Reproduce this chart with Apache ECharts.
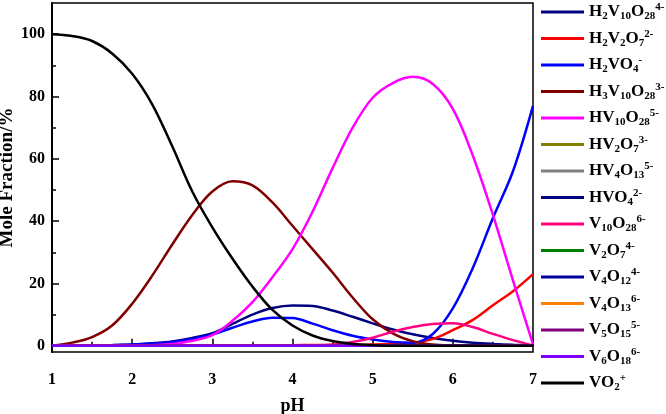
<!DOCTYPE html>
<html>
<head>
<meta charset="utf-8">
<script src="https://cdn.jsdelivr.net/npm/echarts@6.0.0/dist/echarts.min.js"></script>
<style>
  html, body { margin: 0; padding: 0; background: #fff; }
  #container { width: 666px; height: 414px; }
</style>
</head>
<body>
<div id="container"></div>
<script>
// pH grid
const phValues = [1, 1.25, 1.5, 1.75, 2, 2.25, 2.5, 2.75, 3, 3.25, 3.5, 3.75, 4, 4.25, 4.5, 4.75, 5, 5.25, 5.5, 5.75, 6, 6.25, 6.5, 6.75, 7]

// species names, "^" marks the charge
const speciesNames = ['H2V10O28^4-', 'H2V2O7^2-', 'H2VO4^-', 'H3V10O28^3-', 'HV10O28^5-', 'HV2O7^3-', 'HV4O13^5-', 'HVO4^2-',
  'V10O28^6-', 'V2O7^4-', 'V4O12^4-', 'V4O13^6-', 'V5O15^5-', 'V6O18^6-', 'VO2^+']
const speciesColors = ['#000080', '#ff0000', '#0000ff', '#800000', '#ff00ff', '#808000', '#808080', '#000080',
  '#ff0080', '#008000', '#0000a0', '#ff8000', '#800080', '#8000ff', '#000000']

// mole fraction (%) per species
const h2v10o28 = [0, 0.05, 0.1, 0.2, 0.4, 0.8, 1.4, 2.5, 4, 7, 10, 12.1, 12.9, 12.8, 11.3, 9.3, 7.2, 5.2, 3.7, 2.5, 1.6, 1.0, 0.6, 0.3, 0.1]
const h2v2o7 = [0, 0, 0, 0, 0, 0, 0, 0, 0.05, 0.1, 0.15, 0.2, 0.2, 0.25, 0.3, 0.3, 0.4, 0.6, 0.9, 2.2, 5, 8.3, 13, 17.5, 23]
const h2vo4 = [0, 0.05, 0.1, 0.2, 0.4, 0.7, 1.2, 2.2, 3.6, 5.8, 7.8, 9.0, 8.9, 7.1, 5.0, 3.2, 2.0, 1.2, 1.0, 3.8, 12, 25, 41, 56, 77]
const h3v10o28 = [0, 1, 2.8, 6.5, 13.5, 22.5, 32.5, 42, 49.5, 52.8, 51.5, 46, 38.5, 31, 23.5, 15.5, 8.5, 4, 1.5, 0.4, 0.1, 0, 0, 0, 0]
const hv10o28 = [0, 0, 0, 0, 0, 0.2, 0.6, 1.6, 3.4, 8, 14, 22, 31, 43, 57, 70, 79.6, 84.3, 86.3, 84, 76, 61, 42, 21, 0.5]
const v10o28 = [0, 0, 0, 0, 0, 0, 0, 0, 0, 0, 0, 0, 0, 0, 0.3, 1.2, 2.6, 4.5, 6.0, 7.0, 7.2, 6.0, 3.8, 1.8, 0.1]
const vo2 = [100, 99.4, 97.8, 93.8, 87.3, 77.5, 64, 49.5, 38, 28, 19, 11.5, 6.5, 3.3, 1.5, 0.6, 0.2, 0, 0, 0, 0, 0, 0, 0, 0]
const zeros = [0, 0, 0, 0, 0, 0, 0, 0, 0, 0, 0, 0, 0, 0, 0, 0, 0, 0, 0, 0, 0, 0, 0, 0, 0]

const speciesData = [h2v10o28, h2v2o7, h2vo4, h3v10o28, hv10o28, zeros, zeros, zeros,
  v10o28, zeros, zeros, zeros, zeros, zeros, vo2]

// axis ticks
const yLabels = [0, 20, 40, 60, 80, 100]
const yMinorTicks = [10, 30, 50, 70, 90]

const serif = 'Liberation Serif'

// formula -> rich text (digits as subscript, charge as superscript)
function toRich (name) {
  const parts = name.split('^')
  let out = ''
  let run = ''
  let runType = ''
  for (const ch of parts[0]) {
    const t = /[0-9]/.test(ch) ? 's' : 'n'
    if (t !== runType && run) {
      out += '{' + runType + '|' + run + '}'
      run = ''
    }
    runType = t
    run += ch
  }
  if (run) out += '{' + runType + '|' + run + '}'
  if (parts[1]) out += '{p|' + parts[1] + '}'
  return out
}

const series = speciesNames.map((name, i) => ({
  name: name,
  type: 'line',
  symbol: 'none',
  smooth: 0.35,
  color: speciesColors[i],
  lineStyle: { width: 2.5, color: speciesColors[i] },
  data: phValues.map((x, j) => [x, speciesData[i][j]])
}))

const option = {
  animation: false,
  grid: {
    left: 52,
    right: 133,
    top: 3,
    bottom: 62,
    outerBoundsMode: 'none',
    containLabel: false,
    show: true,
    borderColor: '#000',
    borderWidth: 1.5
  },
  legend: {
    orient: 'vertical',
    left: 536,
    top: -3,
    icon: 'rect',
    itemWidth: 43,
    itemHeight: 3,
    itemGap: 6.5,
    selectedMode: false,
    data: speciesNames,
    formatter: function (name) {
      return toRich(name)
    },
    textStyle: {
      rich: {
        n: { fontFamily: serif, fontWeight: 'bold', fontSize: 17, color: '#000', lineHeight: 20 },
        s: { fontFamily: serif, fontWeight: 'bold', fontSize: 11, color: '#000', lineHeight: 12, verticalAlign: 'bottom' },
        p: { fontFamily: serif, fontWeight: 'bold', fontSize: 11, color: '#000', lineHeight: 12, verticalAlign: 'top' }
      }
    }
  },
  xAxis: {
    type: 'value',
    min: 1,
    max: 7,
    interval: 1,
    name: 'pH',
    nameLocation: 'middle',
    nameGap: 45,
    nameTextStyle: { fontFamily: serif, fontWeight: 'bold', fontSize: 18, color: '#000' },
    axisLine: { lineStyle: { color: '#000', width: 2 } },
    axisTick: { inside: true, length: 7, lineStyle: { color: '#000', width: 1.5 } },
    minorTick: { show: true, splitNumber: 2, length: 4, lineStyle: { color: '#000', width: 1.5 } },
    splitLine: { show: false },
    axisLabel: { margin: 20, fontFamily: serif, fontWeight: 'bold', fontSize: 16, color: '#000' }
  },
  yAxis: [
    {
      type: 'value',
      min: -2,
      max: 110,
      name: 'Mole Fraction/%',
      nameLocation: 'middle',
      nameGap: 35,
      nameMoveOverlap: false,
      nameTextStyle: { fontFamily: serif, fontWeight: 'bold', fontSize: 19, color: '#000' },
      axisLine: { show: true, lineStyle: { color: '#000', width: 2 } },
      axisTick: { inside: true, length: 7, customValues: yLabels, lineStyle: { color: '#000', width: 1.5 } },
      splitLine: { show: false },
      axisLabel: { margin: 7, customValues: yLabels, fontFamily: serif, fontWeight: 'bold', fontSize: 16, color: '#000' }
    },
    {
      type: 'value',
      position: 'left',
      min: -2,
      max: 110,
      axisLine: { show: false },
      axisTick: { inside: true, length: 4, customValues: yMinorTicks, lineStyle: { color: '#000', width: 1.5 } },
      splitLine: { show: false },
      axisLabel: { show: false }
    }
  ],
  series: series
}

const myChart = echarts.init(document.getElementById('container'))
myChart.setOption(option)
</script>
</body>
</html>
